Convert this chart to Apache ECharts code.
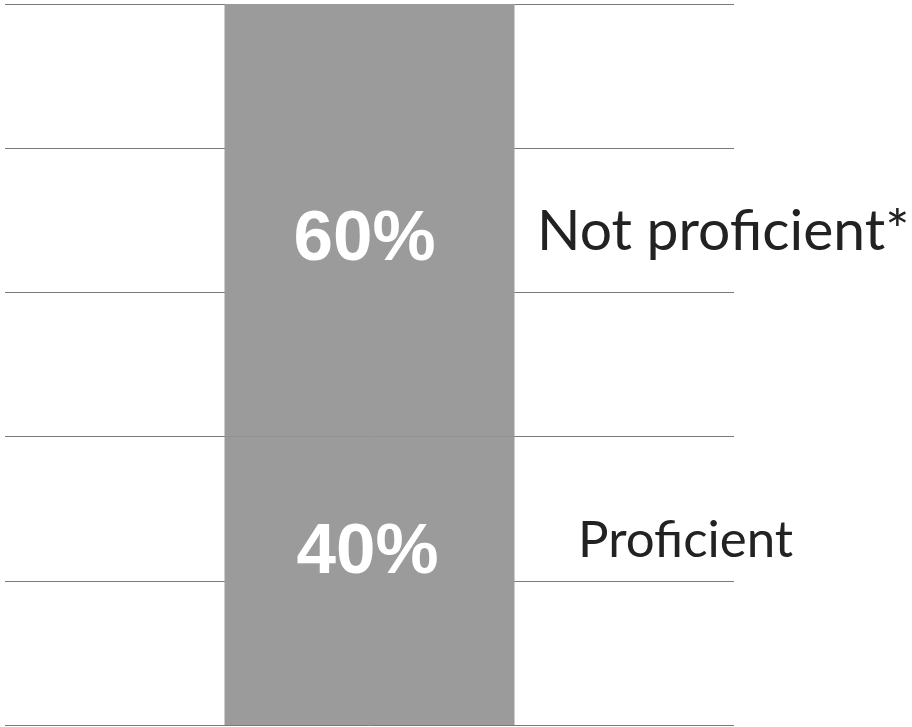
<!DOCTYPE html>
<html>
<head>
<meta charset="utf-8">
<script src="https://cdn.jsdelivr.net/npm/echarts@6/dist/echarts.min.js"></script>
<style>html,body{margin:0;padding:0;background:#fff;}#c{width:912px;height:727px;}</style>
</head>
<body>
<div id="c"></div>
<script>
var categories = ['Students'];
var seriesNames = ['Proficient', 'Not proficient*'];
var proficient = [40];
var notProficient = [60];
var yTicks = [0, 20, 40, 60, 80, 100];

var chart = echarts.init(document.getElementById('c'), null, {renderer: 'canvas'});
var barColor = '#9b9b9b';
var valueLabel = {
  show: true,
  color: '#ffffff',
  fontFamily: 'Liberation Sans, Arial, sans-serif',
  fontWeight: 'bold',
  fontSize: 71,
  formatter: function (p) { return p.value + '%'; }
};
chart.setOption({
  animation: false,
  backgroundColor: '#ffffff',
  grid: {left: 5, right: 178, top: 4, bottom: 2},
  xAxis: {
    type: 'category', data: categories,
    axisLine: {show: false}, axisTick: {show: false}, axisLabel: {show: false}
  },
  yAxis: {
    type: 'value', min: yTicks[0], max: yTicks[yTicks.length - 1], interval: yTicks[1] - yTicks[0],
    axisLine: {show: false}, axisTick: {show: false}, axisLabel: {show: false},
    splitLine: {show: true, lineStyle: {color: '#7a7a7a', width: 1}}
  },
  series: [
    {
      name: seriesNames[0], type: 'bar', stack: 'total', data: proficient, barWidth: 290,
      itemStyle: {color: barColor},
      label: Object.assign({}, valueLabel, {position: 'inside', offset: [-2, -27]})
    },
    {
      name: seriesNames[1], type: 'bar', stack: 'total', data: notProficient, barWidth: 290,
      itemStyle: {color: barColor},
      label: Object.assign({}, valueLabel, {position: 'inside', offset: [-5, 20]})
    }
  ],
  graphic: [
    {type: 'text', x: 537, y: 232, style: {text: seriesNames[1], fill: '#222', fontFamily: 'Lato', fontSize: 57, verticalAlign: 'middle', align: 'left'}},
    {type: 'text', x: 578, y: 541, style: {text: seriesNames[0], fill: '#222', fontFamily: 'Lato', fontSize: 51, verticalAlign: 'middle', align: 'left'}}
  ]
});
</script>
</body>
</html>
